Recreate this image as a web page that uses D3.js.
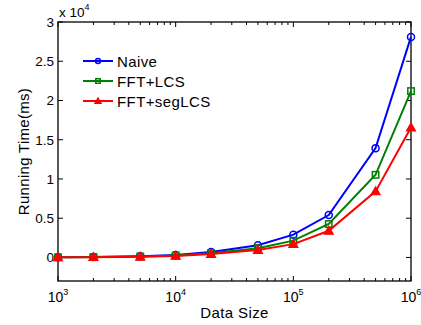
<!DOCTYPE html>
<html>
<head>
<meta charset="utf-8">
<script src="https://cdn.jsdelivr.net/npm/d3@7"></script>
<style>
  body { margin: 0; background: #fff; }
  text { font-family: "Liberation Sans", Arial, sans-serif; fill: #000; }
</style>
</head>
<body>
<svg id="chart" width="421" height="325"></svg>
<script>
// data
const sizes = [1e3, 2e3, 5e3, 1e4, 2e4, 5e4, 1e5, 2e5, 5e5, 1e6];
const naive = [30, 60, 150, 300, 700, 1550, 2900, 5400, 13930, 28100];
const fftLcs = [25, 50, 120, 250, 550, 1170, 2140, 4260, 10530, 21200];
const fftSegLcs = [20, 40, 100, 200, 450, 950, 1700, 3400, 8420, 16560];
const seriesNames = ['Naive', 'FFT+LCS', 'FFT+segLCS'];
const yTicks = [0, 0.5, 1, 1.5, 2, 2.5, 3];
const xTicks = [1e3, 1e4, 1e5, 1e6];

const svg = d3.select('#chart');
const m = { left: 58, right: 10, top: 22, bottom: 44 };
const W = 421, H = 325;

const x = d3.scaleLog().domain([1e3, 1e6]).range([m.left, W - m.right]);
const y = d3.scaleLinear().domain([-3000, 30000]).range([H - m.bottom, m.top]);

const series = [
  { name: seriesNames[0], vals: naive, color: '#0000ff', marker: 'circle' },
  { name: seriesNames[1], vals: fftLcs, color: '#008000', marker: 'square' },
  { name: seriesNames[2], vals: fftSegLcs, color: '#ff0000', marker: 'triangle' }
];

const g = svg.append('g');

// minor ticks for log axis
const minor = [];
for (let p = 3; p < 6; p++) {
  for (let k = 2; k <= 9; k++) minor.push(k * Math.pow(10, p));
}

const yBot = H - m.bottom, yTop = m.top, xL = m.left, xR = W - m.right;

// x ticks (inward, top and bottom)
xTicks.forEach(t => {
  g.append('line').attr('x1', x(t)).attr('x2', x(t)).attr('y1', yBot).attr('y2', yBot - 5)
    .attr('stroke', '#000');
  g.append('line').attr('x1', x(t)).attr('x2', x(t)).attr('y1', yTop).attr('y2', yTop + 5)
    .attr('stroke', '#000');
  const lbl = g.append('text').attr('x', x(t)).attr('y', yBot + 21)
    .attr('text-anchor', 'middle').attr('font-size', 14);
  lbl.append('tspan').text('10');
  lbl.append('tspan').attr('dy', -7).attr('font-size', 9).text(Math.round(Math.log10(t)));
});
minor.forEach(t => {
  g.append('line').attr('x1', x(t)).attr('x2', x(t)).attr('y1', yBot).attr('y2', yBot - 3)
    .attr('stroke', '#000');
  g.append('line').attr('x1', x(t)).attr('x2', x(t)).attr('y1', yTop).attr('y2', yTop + 3)
    .attr('stroke', '#000');
});

// y ticks
yTicks.forEach(t => {
  const yy = y(t * 1e4);
  g.append('line').attr('x1', xL).attr('x2', xL + 5).attr('y1', yy).attr('y2', yy)
    .attr('stroke', '#000');
  g.append('line').attr('x1', xR).attr('x2', xR - 5).attr('y1', yy).attr('y2', yy)
    .attr('stroke', '#000');
  g.append('text').attr('x', xL - 4).attr('y', yy + 5)
    .attr('text-anchor', 'end').attr('font-size', 13.5).text(t);
});

// exponent label
const ex = g.append('text').attr('x', xL + 1).attr('y', yTop - 5).attr('font-size', 13.5);
ex.append('tspan').text('x 10');
ex.append('tspan').attr('dy', -7).attr('font-size', 9).text('4');

// box
g.append('rect').attr('x', xL).attr('y', yTop).attr('width', xR - xL)
  .attr('height', yBot - yTop).attr('fill', 'none').attr('stroke', '#000').attr('stroke-width', 1.3);

// axis titles
g.append('text').attr('x', (xL + xR) / 2).attr('y', H - 7)
  .attr('text-anchor', 'middle').attr('font-size', 15).attr('letter-spacing', 0.4).text('Data Size');
g.append('text').attr('transform', `translate(29,${(yTop + yBot) / 2}) rotate(-90)`)
  .attr('text-anchor', 'middle').attr('font-size', 15).attr('letter-spacing', 0.3).text('Running Time(ms)');

function drawMarker(sel, type, cx, cy, color, k) {
  if (type === 'circle') {
    sel.append('circle').attr('cx', cx).attr('cy', cy).attr('r', 3.5 * k)
      .attr('fill', 'none').attr('stroke', color).attr('stroke-width', 1.5);
  } else if (type === 'square') {
    const h = 3.2 * k;
    sel.append('rect').attr('x', cx - h).attr('y', cy - h).attr('width', 2 * h).attr('height', 2 * h)
      .attr('fill', 'none').attr('stroke', color).attr('stroke-width', 1.5);
  } else {
    const s = 4.5 * k;
    sel.append('path')
      .attr('d', `M${cx},${cy - s}L${cx + s},${cy + s * 0.75}L${cx - s},${cy + s * 0.75}Z`)
      .attr('fill', color).attr('stroke', color).attr('stroke-width', 1.2);
  }
}

const line = d3.line().x(d => x(d[0])).y(d => y(d[1]));

series.forEach(s => {
  const pts = sizes.map((v, i) => [v, s.vals[i]]);
  g.append('path').datum(pts).attr('d', line).attr('fill', 'none')
    .attr('stroke', s.color).attr('stroke-width', 2);
  pts.forEach(p => drawMarker(g, s.marker, x(p[0]), y(p[1]), s.color, 1));
});

// legend
series.forEach((s, i) => {
  const ly = 61 + i * 20;
  g.append('line').attr('x1', 83).attr('x2', 113).attr('y1', ly).attr('y2', ly)
    .attr('stroke', s.color).attr('stroke-width', 2);
  drawMarker(g, s.marker, 98, ly, s.color, 0.7);
  g.append('text').attr('x', 117).attr('y', ly + 5.5).attr('font-size', 15)
    .attr('letter-spacing', 0.4).text(s.name);
});
</script>
</body>
</html>
